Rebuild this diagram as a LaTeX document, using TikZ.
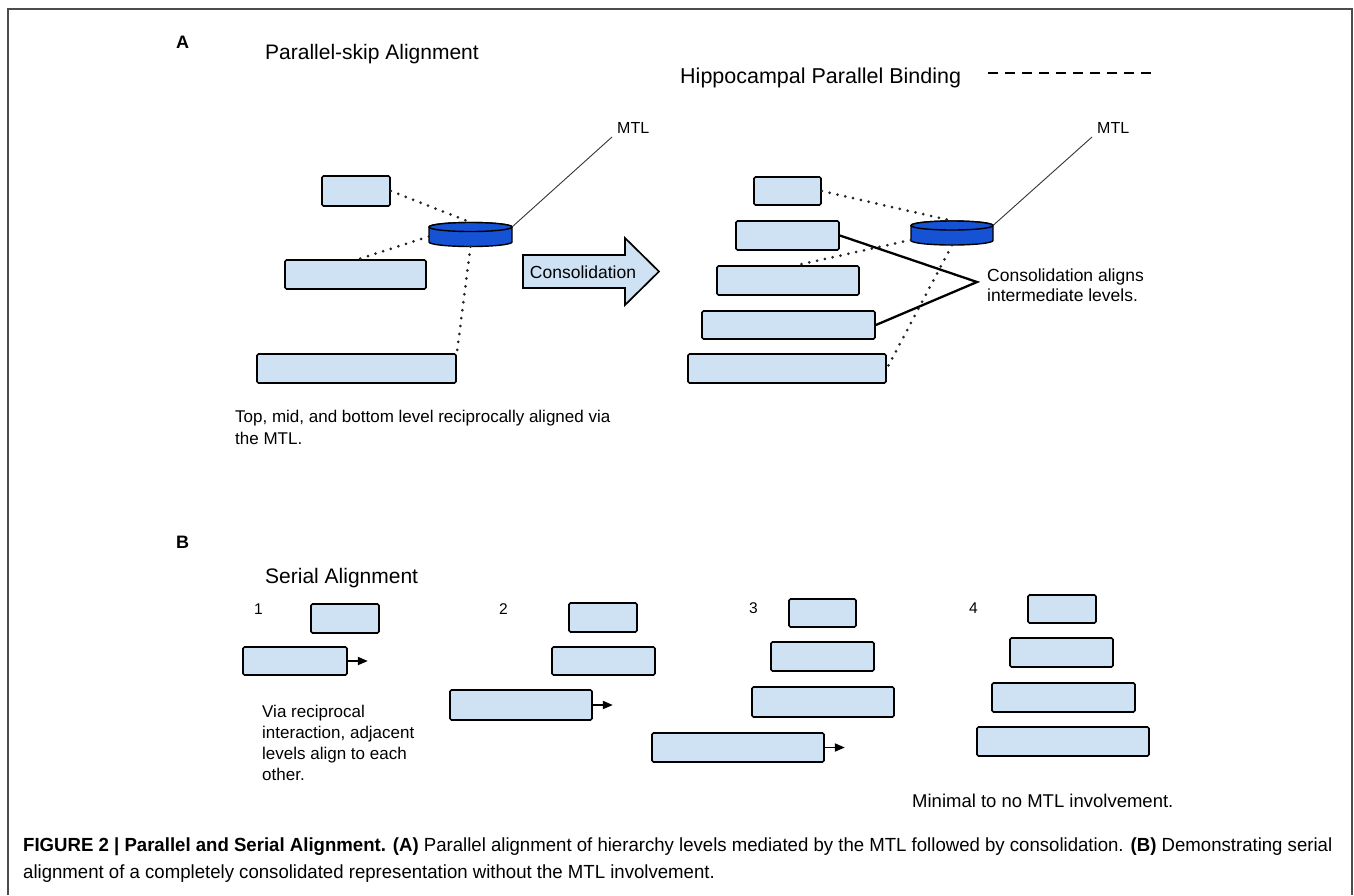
\documentclass[tikz,border=0pt]{standalone}
\usepackage{fontspec}
\setmainfont{Liberation Sans}
\usetikzlibrary{fit,arrows.meta,calc}
\definecolor{lvlfill}{HTML}{CFE2F3}
\definecolor{cylblue}{RGB}{22,82,212}
\newsavebox\capbox
\newlength\caplen
\newcommand\capsize{\fontsize{19}{22}\selectfont}
\begin{document}
\sbox\capbox{\capsize\textbf{FIGURE 2 | Parallel and Serial Alignment. (A)} Parallel alignment of hierarchy levels mediated by the MTL followed by consolidation. \textbf{(B)} Demonstrating serial}%
\setlength\caplen{\wd\capbox}%
\pgfmathsetmacro\capratio{1309/\caplen}%
\begin{tikzpicture}[x=1pt,y=-1pt,
  lvl/.style={draw=black, fill=lvlfill, line width=1.7pt, rounded corners=1.5pt, inner sep=0pt},
  cylbox/.style={inner sep=0pt},
  cylstyle/.style={draw=black, fill=cylblue, line width=1.4pt},
  dotline/.style={line width=3pt, dash pattern=on 0pt off 8pt, line cap=round, black!85},
  thinline/.style={line width=0.9pt, black!80},
  thickline/.style={line width=2.3pt, black},
  sarrow/.style={line width=1.8pt, -{Triangle[length=10pt,width=8pt]}},
  txt/.style={inner sep=0pt, anchor=base west, font=\fontsize{17}{20}\selectfont},
  head/.style={inner sep=0pt, anchor=base west, font=\fontsize{21}{24}\selectfont},
  panel/.style={inner sep=0pt, anchor=base west, font=\fontsize{18}{20}\selectfont\bfseries},
  num/.style={inner sep=0pt, anchor=base west, font=\fontsize{15.5}{18}\selectfont},
  mtl/.style={inner sep=1pt, anchor=base west, font=\fontsize{16}{18}\selectfont},
  captxt/.style={inner sep=0pt, anchor=base west}
]
\useasboundingbox (0,0) rectangle (1354,895);
% frame
\draw[line width=1.3pt, black!70] (8,895) -- (8,9) -- (1352,9) -- (1352,895);

% ---------- Panel A ----------
\node[panel] (lblA) at (176,48) {A};
\node[head] (titA) at (265,59) {Parallel-skip Alignment};
\node[head, font=\fontsize{21.5}{24}\selectfont] (hpb) at (680,83) {Hippocampal Parallel Binding};
\coordinate (dashS) at (988,73);
\draw[line width=2.6pt, dash pattern=on 10pt off 7pt] (dashS) -- (1155,73);

% left group
\node[lvl, fit={(322,176)(390,206)}] (a1) {};
\node[lvl, fit={(285,260)(426,289)}] (a2) {};
\node[lvl, fit={(257,354)(456,383)}] (a3) {};
% cylinder 1
\draw[cylstyle] (429,227) -- (429,242) arc[start angle=180, end angle=0, x radius=41.5, y radius=4.5] -- (512,227) arc[start angle=0, end angle=-180, x radius=41.5, y radius=4.5] -- cycle;
\draw[cylstyle] (470.5,227) ellipse[x radius=41.5, y radius=4.5];
\node[cylbox, fit={(429,222.5)(512,246.5)}] (c1) {};
\coordinate (c1r) at (512,227);
\node[mtl] (mtl1) at (616,133) {MTL};
\draw[thinline] (c1r) -- (612,137);
\draw[dotline] (a1.east) -- (c1.north);
\draw[dotline] ($(c1.west)+(0,2)$) -- ($(a2.north)+(3,0)$);
\draw[dotline] (c1.south) -- (a3.north east);

% consolidation arrow
\draw[line width=1.7pt, fill=lvlfill, line join=miter] (523,255) -- (625,255) -- (625,238) -- (659,271.5) -- (625,305) -- (625,288) -- (523,288) -- cycle;
\node[inner sep=0pt, font=\fontsize{17.5}{20}\selectfont] (cons) at (583,272) {Consolidation};

% right group
\node[lvl, fit={(754,177)(821,205)}] (r1) {};
\node[lvl, fit={(736,221)(839,250)}] (r2) {};
\node[lvl, fit={(717,266)(859,295)}] (r3) {};
\node[lvl, fit={(702,311)(875,339)}] (r4) {};
\node[lvl, fit={(688,354)(886,383)}] (r5) {};
% cylinder 2
\draw[cylstyle] (911,225.5) -- (911,240.5) arc[start angle=180, end angle=0, x radius=41, y radius=4.5] -- (993,225.5) arc[start angle=0, end angle=-180, x radius=41, y radius=4.5] -- cycle;
\draw[cylstyle] (952,225.5) ellipse[x radius=41, y radius=4.5];
\node[cylbox, fit={(911,221)(993,245)}] (c2) {};
\coordinate (c2r) at (993,225.5);
\node[mtl] (mtl2) at (1096,133) {MTL};
\draw[thinline] (c2r) -- (1092,137);
\draw[dotline] (r1.east) -- (c2.north);
\draw[dotline] ($(c2.west)+(0,7)$) -- ($(r3.north)+(9,0)$);
\draw[dotline] (c2.south) -- (r5.east);
\coordinate (tip) at (977,282);
\draw[thickline] (r2.east) -- (tip) -- (r4.east);
\node[txt, font=\fontsize{17.5}{20}\selectfont] (cal1) at (987,281) {Consolidation aligns};
\node[txt, font=\fontsize{17.5}{20}\selectfont] (cal2) at (987,301) {intermediate levels.};

\node[txt] (topmid1) at (235,422) {Top, mid, and bottom level reciprocally aligned via};
\node[txt] (topmid2) at (235,444) {the MTL.};

% ---------- Panel B ----------
\node[panel] (lblB) at (176,548) {B};
\node[head] (titB) at (265,583) {Serial Alignment};

\node[num] (n1) at (254,614) {1};
\node[num] (n2) at (499,614) {2};
\node[num] (n3) at (749,613) {3};
\node[num] (n4) at (969,613) {4};

% group 1
\node[lvl, fit={(311,604)(379,633)}] (b11) {};
\node[lvl, fit={(243,647)(347,675)}] (b12) {};
\draw[sarrow] (b12.east) -- ++(20,0);
\node[txt] (via1) at (262,717) {Via reciprocal};
\node[txt] (via2) at (262,738) {interaction, adjacent};
\node[txt] (via3) at (262,759) {levels align to each};
\node[txt] (via4) at (262,780) {other.};

% group 2
\node[lvl, fit={(569,603)(637,632)}] (b21) {};
\node[lvl, fit={(552,647)(655,675)}] (b22) {};
\node[lvl, fit={(450,690)(592,720)}] (b23) {};
\draw[sarrow] (b23.east) -- ++(20,0);

% group 3
\node[lvl, fit={(789,599)(856,627)}] (b31) {};
\node[lvl, fit={(771,642)(874,671)}] (b32) {};
\node[lvl, fit={(752,687)(894,717)}] (b33) {};
\node[lvl, fit={(652,733)(824,762)}] (b34) {};
\draw[sarrow] (b34.east) -- ++(20,0);

% group 4
\node[lvl, fit={(1028,595)(1096,623)}] (b41) {};
\node[lvl, fit={(1010,638)(1113,667)}] (b42) {};
\node[lvl, fit={(992,683)(1135,712)}] (b43) {};
\node[lvl, fit={(977,727)(1149,756)}] (b44) {};

\node[txt, font=\fontsize{18.5}{20}\selectfont] (minimal) at (912,807) {Minimal to no MTL involvement.};

% caption
\node[captxt] (cap1) at (23,851) {\scalebox{\capratio}[1]{\usebox\capbox}};
\node[captxt] (cap2) at (23,878) {\scalebox{\capratio}[1]{\capsize alignment of a completely consolidated representation without the MTL involvement.}};
\end{tikzpicture}
\end{document}
